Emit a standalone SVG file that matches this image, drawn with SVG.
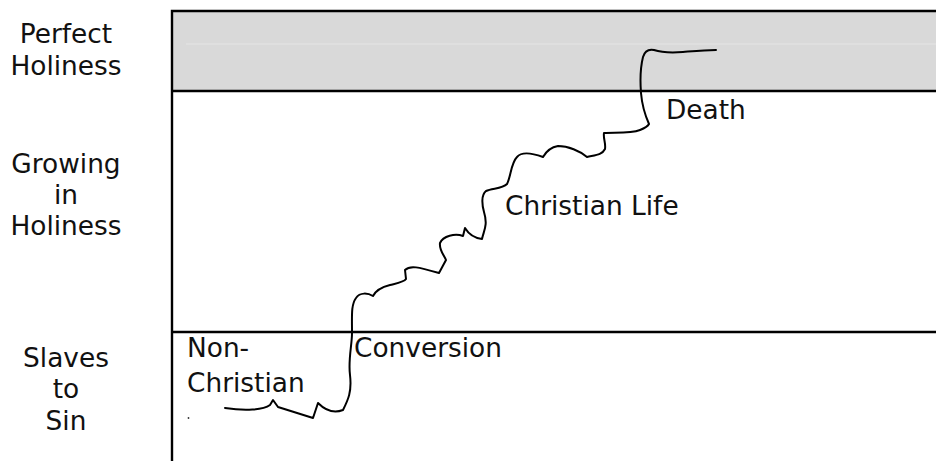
<svg xmlns="http://www.w3.org/2000/svg" width="936" height="461" viewBox="0 0 936 461">
<style>
text{font-family:"DejaVu Sans","Verdana",sans-serif;font-size:26.4px;fill:#111}
.c{text-anchor:middle}
.b{stroke:#000;stroke-width:2.4;fill:none}
.p{stroke:#000;stroke-width:2;fill:none;stroke-linejoin:round;stroke-linecap:round}
</style>
<rect x="0" y="0" width="936" height="461" fill="#fff"/>
<g id="band-perfect">
<rect x="172" y="11" width="780" height="80" fill="#d9d9d9"/>
<line x1="186" y1="44" x2="936" y2="44" stroke="#e6e6e6" stroke-width="1.2"/>
</g>
<g id="frame">
<path class="b" d="M940,11 H172 V461"/>
<line class="b" x1="172" y1="91" x2="940" y2="91"/>
<line class="b" x1="172" y1="332" x2="940" y2="332"/>
</g>
<g id="label-perfect">
<text class="c" x="66" y="43">Perfect</text>
<text class="c" x="66" y="75">Holiness</text>
</g>
<g id="label-growing">
<text class="c" x="66" y="173">Growing</text>
<text class="c" x="66" y="204">in</text>
<text class="c" x="66" y="235">Holiness</text>
</g>
<g id="label-slaves">
<text class="c" x="66" y="367">Slaves</text>
<text class="c" x="66" y="398">to</text>
<text class="c" x="66" y="430">Sin</text>
</g>
<g id="node-nonchristian">
<text x="187" y="357">Non-</text>
<text x="187" y="392">Christian</text>
<circle cx="188.5" cy="418" r="0.9" fill="#333"/>
</g>
<g id="node-conversion"><text x="354" y="357">Conversion</text></g>
<g id="node-christianlife"><text x="505" y="215">Christian Life</text></g>
<g id="node-death"><text x="666" y="119">Death</text></g>
<g id="connectors">
<path class="p" d="M225,408 C245,411 263,410 270,405 L273,400 L278,407 L313,418 L318,403 C325,410 333,414 343,410 C348,400 352,392 350,375 C348,360 352,345 352,333 C352,315 351,305 356,298 C360,292 368,293 373,296 C376,290 382,287 390,285 C398,283 404,282 406,279 L405,270 C410,265 418,267 439,273 L446,260 C444,255 439,250 440,243 C443,236 455,233 463,236 L465,228 C468,233 474,238 482,239 C484,230 488,225 484,212 C482,205 481,195 486,191 C492,188 502,189 507,184 C511,176 511,163 517,157 C522,151 532,153 543,157 C547,150 552,147 558,146 C568,146 580,151 587,157 C596,155 602,155 605,149 C606,143 603,138 604,133 C612,132 630,134 640,130 C645,128 648,126 649,124 C645,115 642,105 641,93 C640,80 641,65 643,57 C645,50 649,49 654,50 C660,52 670,53 683,52 C695,51 705,50 716,50"/>
</g>
</svg>
